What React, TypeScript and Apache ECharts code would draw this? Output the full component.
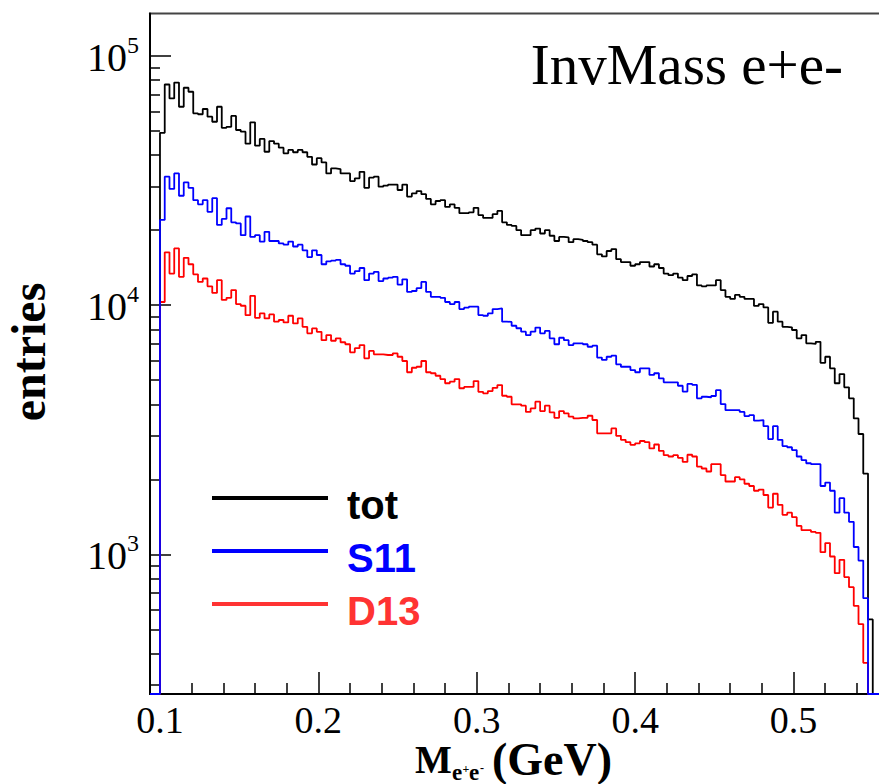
import React, { useEffect, useRef } from "react";
import * as echarts from "echarts";

// Histogram binning (GeV)
const binStart = 0.1;
const binWidth = 0.003;

// Axis ranges
const xMin = 0.0937;
const xMax = 0.56;
const yMin = 275;
const yMax = 148200;

// Tick values
const xMajorTicks = [0.1, 0.2, 0.3, 0.4, 0.5];
const xMinorTicks = [0.12, 0.14, 0.16, 0.18, 0.22, 0.24, 0.26, 0.28, 0.32, 0.34, 0.36, 0.38, 0.42, 0.44, 0.46, 0.48, 0.52, 0.54];
const yMajorTicks = [1000, 10000, 100000];
const yMinorTicks = [300, 400, 500, 600, 700, 800, 900, 2000, 3000, 4000, 5000, 6000, 7000, 8000, 9000, 20000, 30000, 40000, 50000, 60000, 70000, 80000, 90000];

// Series names
const seriesNames = ["tot", "S11", "D13"];

// Bin contents (entries per bin)
const totValues = [
  49200, 76900, 67600, 78300, 62600, 74600, 71900, 58900, 58400, 61300,
  57100, 54500, 62600, 51500, 52000, 57500, 50500, 49700, 44500, 54200,
  43700, 46500, 41300, 45600, 44500, 42900, 40700, 42000, 41100, 42000,
  41100, 39400, 36700, 38900, 37400, 33800, 35400, 35200, 33800, 33800,
  31500, 32300, 34300, 29600, 32500, 32800, 29900, 30200, 30500, 30500,
  29000, 30500, 27300, 28100, 28700, 27900, 26700, 25400, 26200, 26400,
  24800, 25400, 24600, 23400, 23400, 23600, 24600, 23000, 22400, 22400,
  23200, 23900, 21500, 21000, 20800, 20000, 19100, 19100, 20000, 20300,
  19400, 20000, 19000, 18100, 18800, 18700, 17900, 18400, 18300, 18100,
  17900, 17500, 16000, 15700, 16500, 16800, 15300, 14900, 14900, 14400,
  14600, 14900, 14900, 14300, 14600, 14100, 13400, 13200, 13400, 12900,
  12600, 13100, 13300, 12000, 11900, 12000, 12000, 12600, 11500, 10800,
  10600, 11000, 10800, 10600, 10600, 9930, 10100, 9800, 8500, 9420,
  8590, 8190, 8150, 7950, 7360, 7590, 7030, 6990, 7130, 5870,
  6210, 5580, 4860, 5290, 4680, 4230, 3510, 3040, 2110, 548,
];

const s11Values = [
  22000, 32800, 29300, 33800, 27500, 31100, 29600, 26400, 25400, 26400,
  23700, 26900, 21000, 22200, 24500, 21500, 21300, 19100, 22700, 18800,
  19100, 18000, 19700, 18100, 18100, 17700, 17500, 18000, 17200, 17500,
  16600, 15600, 16600, 15900, 14600, 15000, 15100, 15200, 14600, 14400,
  13400, 13700, 14100, 12600, 13400, 13600, 12500, 12800, 12900, 13000,
  12100, 12700, 11300, 11400, 11700, 12400, 11300, 10800, 10800, 10700,
  10300, 10100, 10300, 9650, 9770, 9860, 9860, 9130, 9070, 9270,
  9650, 9710, 8590, 8570, 8270, 8080, 7830, 7590, 7830, 8130,
  7710, 7880, 7360, 6970, 7400, 7240, 6920, 7030, 7030, 6970,
  6810, 6880, 6160, 6030, 6210, 6270, 5790, 5660, 5660, 5490,
  5380, 5580, 5580, 5250, 5330, 5080, 4900, 4900, 4900, 4750,
  4500, 4830, 4790, 4230, 4290, 4270, 4320, 4560, 4010, 3790,
  3790, 3790, 3730, 3590, 3620, 3440, 3460, 3270, 2900, 3270,
  2880, 2720, 2690, 2620, 2470, 2390, 2320, 2300, 2300, 1880,
  1940, 1800, 1470, 1680, 1470, 1350, 1070, 944, 667, 0,
];

const d13Values = [
  10300, 16300, 13400, 16900, 13000, 15500, 14600, 13300, 12400, 12800,
  11900, 11200, 12600, 10500, 10700, 11500, 10100, 9950, 9120, 10900,
  8900, 9270, 8850, 9180, 8590, 8720, 8530, 9070, 8450, 8850,
  8190, 7710, 8070, 7820, 7240, 7590, 7200, 7360, 7100, 6970,
  6470, 6720, 6920, 6120, 6550, 6350, 6350, 6310, 6310, 6410,
  6210, 5970, 5380, 5610, 5660, 5970, 5380, 5330, 5210, 5050,
  4860, 4930, 5050, 4640, 4700, 4700, 4960, 4490, 4430, 4520,
  4660, 4780, 4330, 4290, 4000, 4000, 3950, 3730, 3850, 4100,
  3760, 3950, 3710, 3530, 3760, 3680, 3570, 3510, 3530, 3530,
  3600, 3460, 3060, 3060, 3060, 3200, 2990, 2880, 2820, 2750,
  2790, 2850, 2820, 2660, 2760, 2600, 2500, 2470, 2500, 2440,
  2350, 2510, 2470, 2250, 2210, 2150, 2300, 2300, 2080, 1960,
  1960, 2040, 2000, 1920, 1880, 1800, 1820, 1730, 1540, 1750,
  1580, 1440, 1470, 1410, 1300, 1250, 1250, 1230, 1220, 1020,
  1110, 980, 840, 950, 810, 738, 621, 525, 367, 0,
];

const COLORS = { tot: "#000000", S11: "#0000ff", D13: "#ff0000" };
const LEGEND_TEXT_COLORS = { tot: "#000000", S11: "#0000ff", D13: "#ff3333" };

const SERIF = "'Liberation Serif', 'Times New Roman', serif";
const SANS = "'Liberation Sans', Arial, sans-serif";

// Legend marker: a 4px bar sitting in the upper part of an 18px box
const LEGEND_ICON = "path://M0,0L116,0L116,4L0,4Z M0,18L116,18";

function histData(values: number[]) {
  const pts: [number, number][] = [];
  pts.push([xMin, yMin]);
  values.forEach((v, k) => {
    pts.push([+(binStart + k * binWidth).toFixed(4), v > 0 ? v : yMin]);
  });
  pts.push([+(binStart + values.length * binWidth).toFixed(4), yMin]);
  pts.push([xMax, yMin]);
  return pts;
}

export default function App() {
  const ref = useRef<HTMLDivElement>(null);

  useEffect(() => {
    if (!ref.current) return;
    const chart = echarts.init(ref.current, null, { renderer: "svg" });

    const lineSeries = (name: string, values: number[]) => ({
      name,
      type: "line",
      step: "end",
      data: histData(values),
      showSymbol: false,
      symbol: "none",
      clip: true,
      color: (COLORS as any)[name],
      lineStyle: { color: (COLORS as any)[name], width: 1.8 },
      silent: true,
    });

    const subStyle = (text: string, size: number) => ({
      text,
      fontFamily: SERIF,
      fontSize: size,
      fontWeight: "bold",
      fill: "#000",
      textAlign: "left",
      textVerticalAlign: "middle",
    });

    const option: any = {
      animation: false,
      backgroundColor: "#ffffff",
      textStyle: { fontFamily: SERIF },
      grid: {
        left: 150,
        top: 13.5,
        right: 900 - 888.6,
        bottom: 90,
        show: true,
        borderColor: "#444",
        borderWidth: 2,
        backgroundColor: "transparent",
        containLabel: false,
      },
      xAxis: [
        {
          type: "value",
          min: xMin,
          max: xMax,
          position: "bottom",
          axisLine: { show: true, onZero: false, lineStyle: { color: "#000", width: 2 } },
          axisTick: {
            show: true,
            inside: true,
            length: 22,
            customValues: xMajorTicks,
            lineStyle: { color: "#000", width: 1.5 },
          },
          axisLabel: {
            show: true,
            customValues: xMajorTicks,
            formatter: (v: number) => v.toFixed(1),
            fontFamily: SERIF,
            fontSize: 38,
            color: "#000",
            margin: 7,
          },
          splitLine: { show: false },
        },
        {
          type: "value",
          min: xMin,
          max: xMax,
          position: "bottom",
          axisLine: { show: false },
          axisTick: {
            show: true,
            inside: true,
            length: 11,
            customValues: xMinorTicks,
            lineStyle: { color: "#000", width: 1.5 },
          },
          axisLabel: { show: false },
          splitLine: { show: false },
        },
      ],
      yAxis: [
        {
          type: "log",
          logBase: 10,
          min: yMin,
          max: yMax,
          position: "left",
          axisLine: { show: true, onZero: false, lineStyle: { color: "#000", width: 2 } },
          axisTick: {
            show: true,
            inside: true,
            length: 21,
            customValues: yMajorTicks,
            lineStyle: { color: "#000", width: 1.5 },
          },
          axisLabel: {
            show: true,
            customValues: yMajorTicks,
            margin: 11,
            formatter: (v: number) => `{b|10}{s|${Math.round(Math.log10(v))}}`,
            rich: {
              b: { fontFamily: SERIF, fontSize: 40, lineHeight: 42, color: "#000", verticalAlign: "bottom" },
              s: { fontFamily: SERIF, fontSize: 24, lineHeight: 24, color: "#000", verticalAlign: "bottom", padding: [0, 0, 20, 0] },
            },
          },
          splitLine: { show: false },
          minorTick: { show: false },
        },
        {
          type: "log",
          logBase: 10,
          min: yMin,
          max: yMax,
          position: "left",
          axisLine: { show: false },
          axisTick: {
            show: true,
            inside: true,
            length: 10,
            customValues: yMinorTicks,
            lineStyle: { color: "#000", width: 1.5 },
          },
          axisLabel: { show: false },
          splitLine: { show: false },
        },
      ],
      legend: {
        show: true,
        orient: "vertical",
        left: 207,
        top: 480,
        itemWidth: 116,
        itemHeight: 18,
        itemGap: 13,
        icon: LEGEND_ICON,
        selectedMode: false,
        textStyle: { fontFamily: SANS, fontSize: 40, fontWeight: "bold", padding: [0, 0, 0, 14] },
        data: seriesNames.map((n) => ({
          name: n,
          itemStyle: { color: (LEGEND_TEXT_COLORS as any)[n], borderWidth: 0 },
          textStyle: { color: (LEGEND_TEXT_COLORS as any)[n] },
        })),
      },
      series: [
        lineSeries("tot", totValues),
        lineSeries("D13", d13Values),
        lineSeries("S11", s11Values),
      ],
      graphic: [
        {
          type: "text",
          x: 843,
          y: 64,
          style: { text: "InvMass e+e-", fontFamily: SERIF, fontSize: 57, fill: "#000", textAlign: "right", textVerticalAlign: "middle" },
        },
        {
          type: "text",
          x: 28,
          y: 352,
          rotation: Math.PI / 2,
          style: { text: "entries", fontFamily: SERIF, fontSize: 48, fontWeight: "bold", fill: "#000", textAlign: "center", textVerticalAlign: "middle" },
        },
        {
          type: "group",
          children: [
            { type: "text", x: 415, y: 759, style: subStyle("M", 39) },
            { type: "text", x: 452, y: 772.5, style: subStyle("e", 23) },
            { type: "text", x: 462.5, y: 769, style: subStyle("+", 12) },
            { type: "text", x: 469, y: 772.5, style: subStyle("e", 23) },
            { type: "text", x: 480, y: 768, style: subStyle("-", 12) },
            { type: "text", x: 492, y: 759, style: subStyle("(GeV)", 46) },
          ],
        },
      ],
    };

    chart.setOption(option);
    return () => chart.dispose();
  }, []);

  return (
    <div style={{ position: "fixed", left: 0, top: 0, width: 879, height: 784, overflow: "hidden", background: "#fff" }}>
      <div ref={ref} style={{ width: 900, height: 784 }} />
    </div>
  );
}
